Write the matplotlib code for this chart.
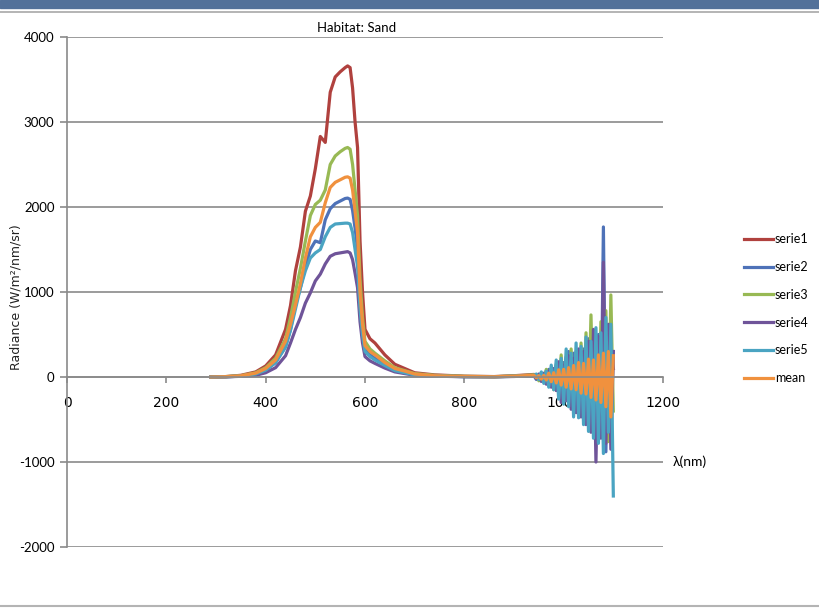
import matplotlib
matplotlib.use("Agg")
import matplotlib.pyplot as plt
from matplotlib.lines import Line2D
from matplotlib.patches import Rectangle

# wavelengths (nm): smooth part then the noisy tail
wavelength = [290, 320, 350, 380, 400, 420, 440, 450, 460, 470, 480, 490, 500, 510, 520,
              530, 540, 550, 560, 565, 570, 575, 580, 585, 590, 595, 600, 610, 620, 640,
              660, 680, 700, 740, 800, 860, 900, 940,
              945, 950, 955, 960, 965, 970, 975, 980, 985, 990, 995, 1000, 1005, 1010,
              1015, 1020, 1025, 1030, 1035, 1040, 1045, 1050, 1055, 1060, 1065, 1070,
              1075, 1080, 1085, 1090, 1095, 1100]

serie1 = [0, 5, 20, 60, 130, 260, 560, 840, 1250, 1530, 1950, 2130, 2450, 2830, 2760,
          3350, 3530, 3590, 3640, 3660, 3640, 3400, 3000, 2700, 1600, 1000, 560, 450, 400, 260,
          150, 100, 50, 25, 10, 5, 15, 30,
          25, -30, 40, -25, 70, -50, 60, -90, 130, -80, 170, -140, 235, -120, 180, -200,
          220, -160, 260, -240, 200, -280, 300, -220, 280, -350, 330, -300, 380, -420, 300, 100]
serie2 = [0, 3, 10, 35, 80, 170, 360, 560, 850, 1050, 1300, 1500, 1600, 1580, 1850,
          1980, 2040, 2070, 2100, 2105, 2090, 1960, 1750, 1500, 900, 560, 330, 260, 220, 150,
          85, 55, 30, 14, 5, 3, 10, 20,
          -30, 25, -50, 45, -60, 90, -110, 80, -150, 140, -230, 170, -260, 300, -210, 280,
          -350, 250, -400, 330, -380, 450, -520, 380, -600, 500, -700, 1765, -880, 600, -650, 300]
serie3 = [0, 5, 15, 50, 110, 220, 450, 700, 1000, 1280, 1600, 1900, 2030, 2080, 2200,
          2500, 2600, 2650, 2690, 2700, 2680, 2500, 2200, 1900, 1150, 700, 420, 330, 280, 190,
          110, 75, 40, 20, 8, 4, 12, 25,
          20, -45, 35, -40, 90, -70, 100, -150, 150, -130, 260, -220, 200, -300, 330, -250,
          300, -380, 400, -330, 520, -420, 730, -500, 480, -620, 650, -560, 780, -760, 965, -400]
serie4 = [0, 2, 8, 20, 50, 110, 250, 400, 560, 700, 870, 990, 1130, 1210, 1330,
          1420, 1450, 1460, 1470, 1475, 1460, 1380, 1220, 1050, 650, 400, 240, 190, 160, 105,
          60, 40, 20, 10, 3, 2, 6, 15,
          -20, 35, -50, 40, -85, 70, -120, 100, -160, 180, -300, 140, -280, 250, -380, 220,
          -420, 330, -470, 300, -560, 420, -650, 560, -1000, 480, -720, 1350, -780, 620, -850, 300]
serie5 = [0, 3, 10, 35, 80, 170, 350, 550, 800, 1050, 1250, 1400, 1460, 1500, 1650,
          1760, 1800, 1805, 1810, 1810, 1800, 1700, 1500, 1300, 800, 500, 300, 240, 200, 135,
          75, 50, 25, 12, 4, 2, 8, 18,
          35, -30, 60, -75, 70, -120, 140, -150, 200, -260, 220, -320, 330, -350, 280, -470,
          400, -480, 360, -560, 470, -640, 420, -720, 580, -780, 520, -900, 700, -650, 620, -1400]
mean = [0, 4, 14, 45, 100, 200, 420, 620, 850, 1100, 1400, 1650, 1760, 1820, 2050,
        2230, 2290, 2320, 2350, 2355, 2340, 2200, 1950, 1700, 1000, 620, 370, 300, 260, 170,
        100, 70, 35, 15, 6, 3, 10, 20,
        -10, 15, -25, 20, -35, 45, -55, 50, -70, 85, -95, 90, -120, 110, -140, 135,
        -150, 170, -190, 160, -200, 210, -240, 200, -270, 260, -300, 280, -350, 300, -470, 250]

labels = ["serie1", "serie2", "serie3", "serie4", "serie5", "mean"]
colors = ["#B0413E", "#4E72B8", "#98B954", "#6F5499", "#4AA4C2", "#F0913E"]
xticks = [0, 200, 400, 600, 800, 1000, 1200]
yticks = [-2000, -1000, 0, 1000, 2000, 3000, 4000]

fig = plt.figure(figsize=(8.19, 6.08), dpi=100)
ax = fig.add_axes([67/819, 1 - 547/608, 596/819, 510/608])

for y, lab, c in zip([serie1, serie2, serie3, serie4, serie5, mean], labels, colors):
    ax.plot(wavelength, y, color=c, lw=2.3, label=lab, solid_joinstyle="round")

ax.set_xlim(0, 1200)
ax.set_ylim(-2000, 4000)
ax.set_xticks(xticks)
ax.set_yticks(yticks)
ax.set_xticklabels([str(v) for v in xticks], fontfamily="Lato", fontsize=9.5)
ax.set_yticklabels([str(v) for v in yticks], fontfamily="Lato", fontsize=9.5)
ax.grid(axis="y", color="#8a8a8a", lw=1.2)
ax.set_axisbelow(True)

for s in ["top", "right"]:
    ax.spines[s].set_visible(False)
ax.spines["bottom"].set_position(("data", 0))
ax.spines["bottom"].set_color("#8a8a8a")
ax.spines["bottom"].set_linewidth(1.2)
ax.spines["left"].set_color("#8a8a8a")
ax.spines["left"].set_linewidth(1.2)
ax.tick_params(axis="x", direction="out", length=4, width=1.2, color="#8a8a8a", pad=10)
ax.tick_params(axis="y", direction="out", length=5, width=1.2, color="#8a8a8a", pad=4)

ax.set_ylabel("Radiance (W/m²/nm/sr)", fontsize=9, color="#222222")
ax.yaxis.set_label_coords((23 - 67) / 596, 0.49)
ax.text(1220, -1000, "λ(nm)", fontsize=10, va="center", ha="left", clip_on=False,
        fontfamily="Lato")
fig.text(357/819, 1 - 28/608, "Habitat: Sand", ha="center", va="center",
         fontsize=9.5, fontfamily="Lato")

fig.legend(loc="upper left", bbox_to_anchor=(744/819, 1 - 233/608), frameon=False,
           prop={"family": "Lato", "size": 9}, handlelength=2.3, handletextpad=0.15,
           labelspacing=1.27, borderpad=0, borderaxespad=0)

# slide decoration: blue band and gray rules
fig.patches.append(Rectangle((0, 1 - 8/608), 1, 8/608, transform=fig.transFigure,
                             color="#52719A", zorder=0))
fig.lines.append(Line2D([0, 1], [1 - 12/608] * 2, transform=fig.transFigure,
                        color="#a8a8a8", lw=1.2))
fig.lines.append(Line2D([0, 1], [1 - 606/608] * 2, transform=fig.transFigure,
                        color="#b4b4b4", lw=1.5))

fig.savefig("out.png", dpi=100)
